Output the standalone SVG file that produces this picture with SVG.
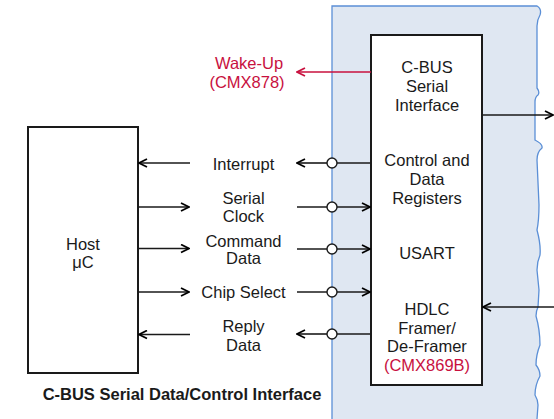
<svg xmlns="http://www.w3.org/2000/svg" width="554" height="419" viewBox="0 0 554 419">
<defs>
<marker id="ah" viewBox="0 0 10 10" refX="9" refY="5" markerWidth="10" markerHeight="10" markerUnits="userSpaceOnUse" orient="auto">
<path d="M1,1 L9,5 L1,9" fill="none" stroke="#000" stroke-width="1.8"/>
</marker>
<marker id="ahr" viewBox="0 0 10 10" refX="9" refY="5" markerWidth="10" markerHeight="10" markerUnits="userSpaceOnUse" orient="auto">
<path d="M1,1 L9,5 L1,9" fill="none" stroke="#c8103e" stroke-width="1.8"/>
</marker>
</defs>
<style>
text{font-family:"Liberation Sans",Arial,sans-serif;font-size:16.5px;fill:#1a1a1a;text-anchor:middle}
.red{fill:#c8103e}
.cap{font-weight:bold}
.box{fill:#fff;stroke:#1a1a1a;stroke-width:2}
.ln{stroke:#1a1a1a;stroke-width:1.6;fill:none}
.arr{marker-end:url(#ah)}
.dot{fill:#fff;stroke:#1a1a1a;stroke-width:1.4}
</style>
<rect width="554" height="419" fill="#fff"/>
<g id="panel">
<path d="M332,419 L332,6 L537,6 Q542,9 540,15 Q537,20 537,26 L537,88 Q540,92 538,95 Q535,97 535,102 L535,140 Q543,144 542,148 Q537,152 537,160 L539,205 Q539,220 537,230 Q541,245 540,255 Q537,262 537,270 L539,290 L538,307 Q536,311 536,316 Q540,330 540,345 Q536,355 536,365 Q540,370 540,376 Q535,385 535,395 Q538,400 538,405 L537,419 Z" fill="#dfe7f2"/>
<path d="M332,419 L332,6 L537,6 Q542,9 540,15 Q537,20 537,26 L537,88 Q540,92 538,95 Q535,97 535,102 L535,140 Q543,144 542,148 Q537,152 537,160 L539,205 Q539,220 537,230 Q541,245 540,255 Q537,262 537,270 L539,290 L538,307 Q536,311 536,316 Q540,330 540,345 Q536,355 536,365 Q540,370 540,376 Q535,385 535,395 Q538,400 538,405 L537,419" fill="none" stroke="#5b8fd6" stroke-width="1.3"/>
</g>
<g id="host">
<rect class="box" x="28" y="127" width="110" height="246"/>
<text x="83" y="250">Host</text>
<text x="83" y="268">μC</text>
</g>
<g id="chip">
<rect class="box" x="371" y="35" width="111" height="350"/>
<text x="427" y="73">C-BUS</text>
<text x="427" y="92">Serial</text>
<text x="427" y="111">Interface</text>
<text x="427" y="166">Control and</text>
<text x="427" y="185">Data</text>
<text x="427" y="204">Registers</text>
<text x="427" y="259">USART</text>
<text x="427" y="315">HDLC</text>
<text x="427" y="334">Framer/</text>
<text x="427" y="352">De-Framer</text>
<text class="red" x="427" y="371">(CMX869B)</text>
</g>
<g id="labels">
<text class="red" x="249" y="69">Wake-Up</text>
<text class="red" x="247" y="88">(CMX878)</text>
<text x="243.5" y="170">Interrupt</text>
<text x="243.5" y="204">Serial</text>
<text x="243.5" y="222">Clock</text>
<text x="243.5" y="247">Command</text>
<text x="243.5" y="264">Data</text>
<text x="243.5" y="298">Chip Select</text>
<text x="243.5" y="332">Reply</text>
<text x="243.5" y="351">Data</text>
<text class="cap" x="182" y="400">C-BUS Serial Data/Control Interface</text>
</g>
<g id="connectors">
<line x1="371" y1="72" x2="297" y2="72" stroke="#c8103e" stroke-width="1.6" marker-end="url(#ahr)"/>
<line class="ln arr" x1="482" y1="115" x2="553" y2="115"/>
<line class="ln arr" x1="554" y1="307" x2="483" y2="307"/>
<line class="ln arr" x1="190" y1="163" x2="139" y2="163"/>
<line class="ln" x1="371" y1="163" x2="332" y2="163"/>
<line class="ln arr" x1="327" y1="163" x2="297" y2="163"/>
<circle class="dot" cx="332" cy="163" r="5"/>
<line class="ln arr" x1="138" y1="207" x2="189" y2="207"/>
<line class="ln" x1="297" y1="207" x2="332" y2="207"/>
<line class="ln arr" x1="337" y1="207" x2="370" y2="207"/>
<circle class="dot" cx="332" cy="207" r="5"/>
<line class="ln arr" x1="138" y1="248.5" x2="189" y2="248.5"/>
<line class="ln" x1="297" y1="249" x2="332" y2="249"/>
<line class="ln arr" x1="337" y1="249" x2="370" y2="249"/>
<circle class="dot" cx="332" cy="249" r="5"/>
<line class="ln arr" x1="138" y1="292" x2="189" y2="292"/>
<line class="ln" x1="297" y1="292" x2="332" y2="292"/>
<line class="ln arr" x1="337" y1="292" x2="370" y2="292"/>
<circle class="dot" cx="332" cy="292" r="5"/>
<line class="ln arr" x1="190" y1="334.5" x2="139" y2="334.5"/>
<line class="ln" x1="371" y1="334" x2="332" y2="334"/>
<line class="ln arr" x1="327" y1="334" x2="297" y2="334"/>
<circle class="dot" cx="332" cy="334" r="5"/>
</g>
</svg>
